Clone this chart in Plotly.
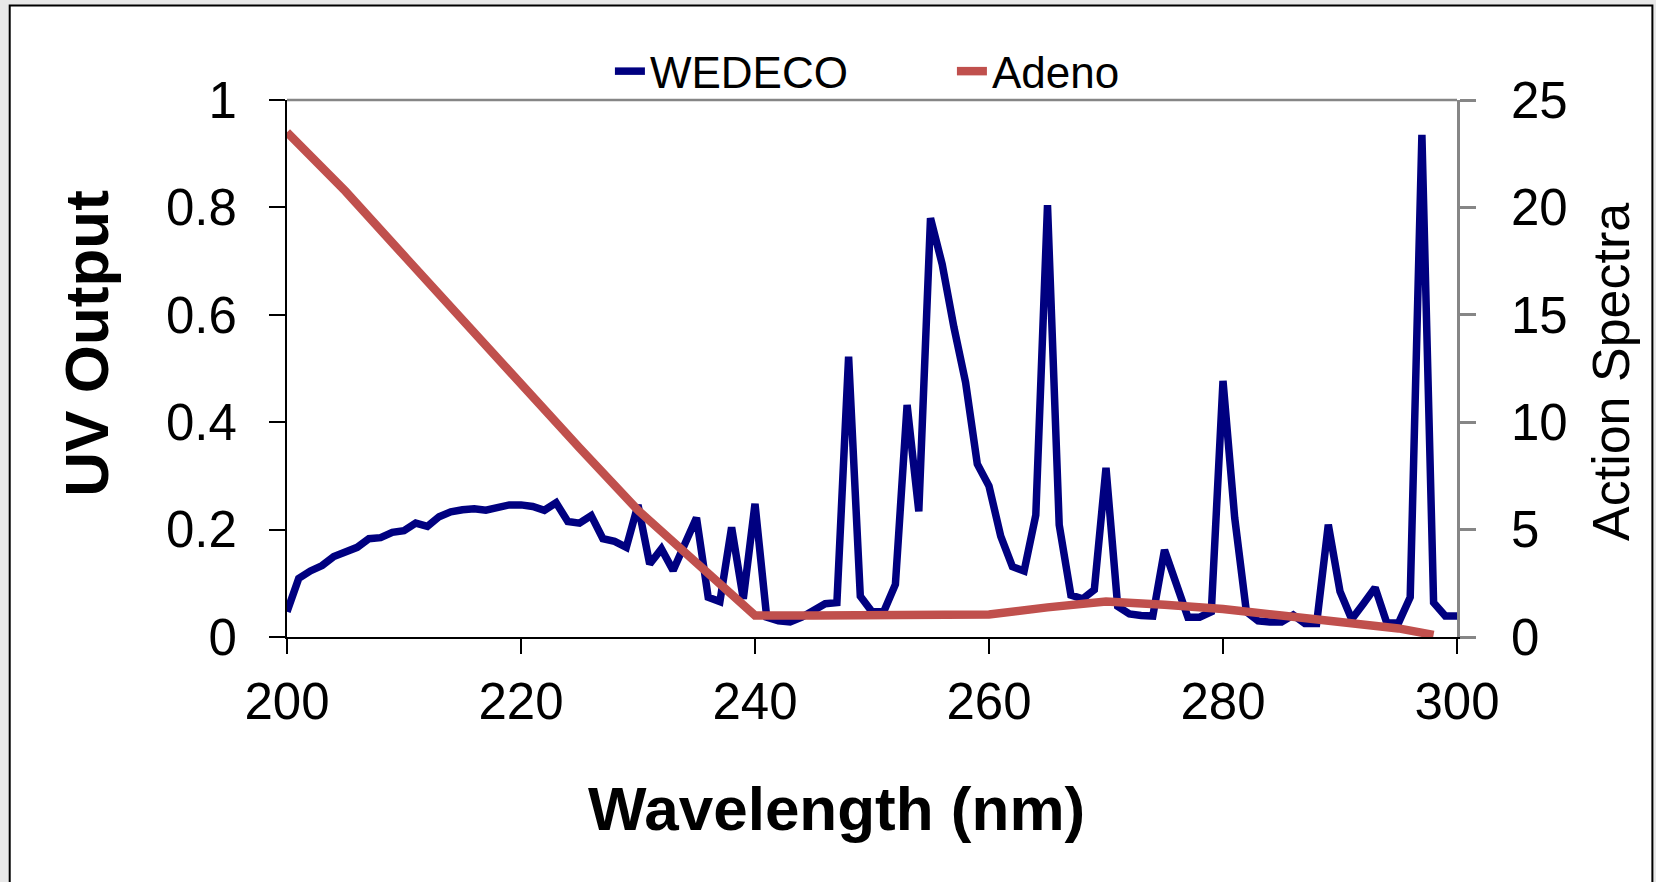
import plotly.graph_objects as go

wavelength = list(range(200, 301))
wedeco = [
    0.047, 0.109, 0.123, 0.133, 0.150, 0.160, 0.167, 0.183, 0.185, 0.195,
    0.198, 0.212, 0.206, 0.224, 0.233, 0.237, 0.239, 0.236, 0.241, 0.246,
    0.246, 0.243, 0.236, 0.250, 0.215, 0.212, 0.226, 0.183, 0.178, 0.167,
    0.246, 0.136, 0.164, 0.124, 0.173, 0.222, 0.074, 0.066, 0.204, 0.071,
    0.248, 0.037, 0.030, 0.028, 0.037, 0.050, 0.062, 0.064, 0.522, 0.076,
    0.047, 0.047, 0.098, 0.432, 0.234, 0.780, 0.694, 0.577, 0.474, 0.322,
    0.281, 0.188, 0.131, 0.123, 0.227, 0.804, 0.209, 0.078, 0.071, 0.088,
    0.315, 0.057, 0.043, 0.040, 0.039, 0.162, 0.095, 0.037, 0.037, 0.047,
    0.477, 0.222, 0.047, 0.030, 0.028, 0.028, 0.041, 0.025, 0.025, 0.209,
    0.085, 0.033, 0.062, 0.092, 0.026, 0.026, 0.074, 0.935, 0.064, 0.039,
    0.039,
]

adeno_wl = [200, 205, 210, 215, 220, 225, 230, 235, 240, 245, 250, 255, 260,
            265, 270, 275, 280, 285, 290, 295, 298]
adeno = [23.5, 20.75, 17.75, 14.75, 11.8, 8.8, 5.9, 3.4, 1.0, 1.0, 1.0, 1.0,
         1.05, 1.38, 1.65, 1.5, 1.3, 1.0, 0.7, 0.4, 0.1]

y_ticks = [0, 0.2, 0.4, 0.6, 0.8, 1]
y_tick_text = ["0", "0.2", "0.4", "0.6", "0.8", "1"]
y2_ticks = [0, 5, 10, 15, 20, 25]
x_ticks = [200, 220, 240, 260, 280, 300]

FONT = "Arial, 'Liberation Sans', sans-serif"
BLUE = "#000080"
RED = "#C0504D"
GRAY = "#868686"

fig = go.Figure()
fig.add_trace(go.Scatter(x=wavelength, y=wedeco, name="WEDECO", mode="lines",
                         line=dict(color=BLUE, width=7.5), yaxis="y"))
fig.add_trace(go.Scatter(x=adeno_wl, y=adeno, name="Adeno", mode="lines",
                         line=dict(color=RED, width=8.5), yaxis="y2"))

fig.update_layout(
    width=1656, height=882,
    margin=dict(l=287, r=199, t=100, b=245),
    paper_bgcolor="#e8e8e8",
    plot_bgcolor="white",
    font=dict(family=FONT, color="black"),
    showlegend=True,
    legend=dict(orientation="h", x=0.276, xanchor="left", y=1.053, yanchor="middle",
                font=dict(size=44, family=FONT), bgcolor="rgba(0,0,0,0)",
                entrywidth=297, entrywidthmode="pixels", tracegroupgap=0),
    xaxis=dict(range=[200, 300], tickvals=x_ticks, showgrid=False, zeroline=False,
               showline=True, linecolor="black", linewidth=2,
               ticks="outside", ticklen=15, tickcolor="black", tickwidth=1.5,
               tickfont=dict(size=51, family=FONT), ticklabelstandoff=4),
    yaxis=dict(range=[0, 1], tickvals=y_ticks, ticktext=y_tick_text, showgrid=False,
               zeroline=False, showline=True, linecolor="black", linewidth=2,
               ticks="outside", ticklen=16, tickcolor="black", tickwidth=1.5,
               tickfont=dict(size=51, family=FONT), ticklabelstandoff=22),
    yaxis2=dict(range=[0, 25], tickvals=y2_ticks, overlaying="y", side="right",
                showgrid=False, zeroline=False, showline=True, linecolor=GRAY,
                linewidth=2.5, ticks="outside", ticklen=16, tickcolor=GRAY, tickwidth=2.5,
                tickfont=dict(size=51, family=FONT), ticklabelstandoff=25),
    shapes=[
        dict(type="rect", xref="paper", yref="paper", x0=-0.2370, x1=1.1670,
             y0=-0.75, y1=1.176, line=dict(color="black", width=2),
             fillcolor="white", layer="below"),
        dict(type="line", xref="paper", yref="paper", x0=0, x1=1, y0=1, y1=1,
             line=dict(color=GRAY, width=2.5)),
    ],
    annotations=[
        dict(text="<b>Wavelength (nm)</b>", xref="paper", yref="paper", x=0.470, y=-0.319,
             xanchor="center", yanchor="middle", showarrow=False,
             font=dict(size=62, family=FONT)),
        dict(text="<b>UV Output</b>", xref="paper", yref="paper", x=-0.171, y=0.548,
             xanchor="center", yanchor="middle", showarrow=False, textangle=-90,
             font=dict(size=62, family=FONT)),
        dict(text="Action Spectra", xref="paper", yref="paper", x=1.131, y=0.494,
             xanchor="center", yanchor="middle", showarrow=False, textangle=-90,
             font=dict(size=52, family=FONT)),
    ],
)

fig.write_html("out.html")
